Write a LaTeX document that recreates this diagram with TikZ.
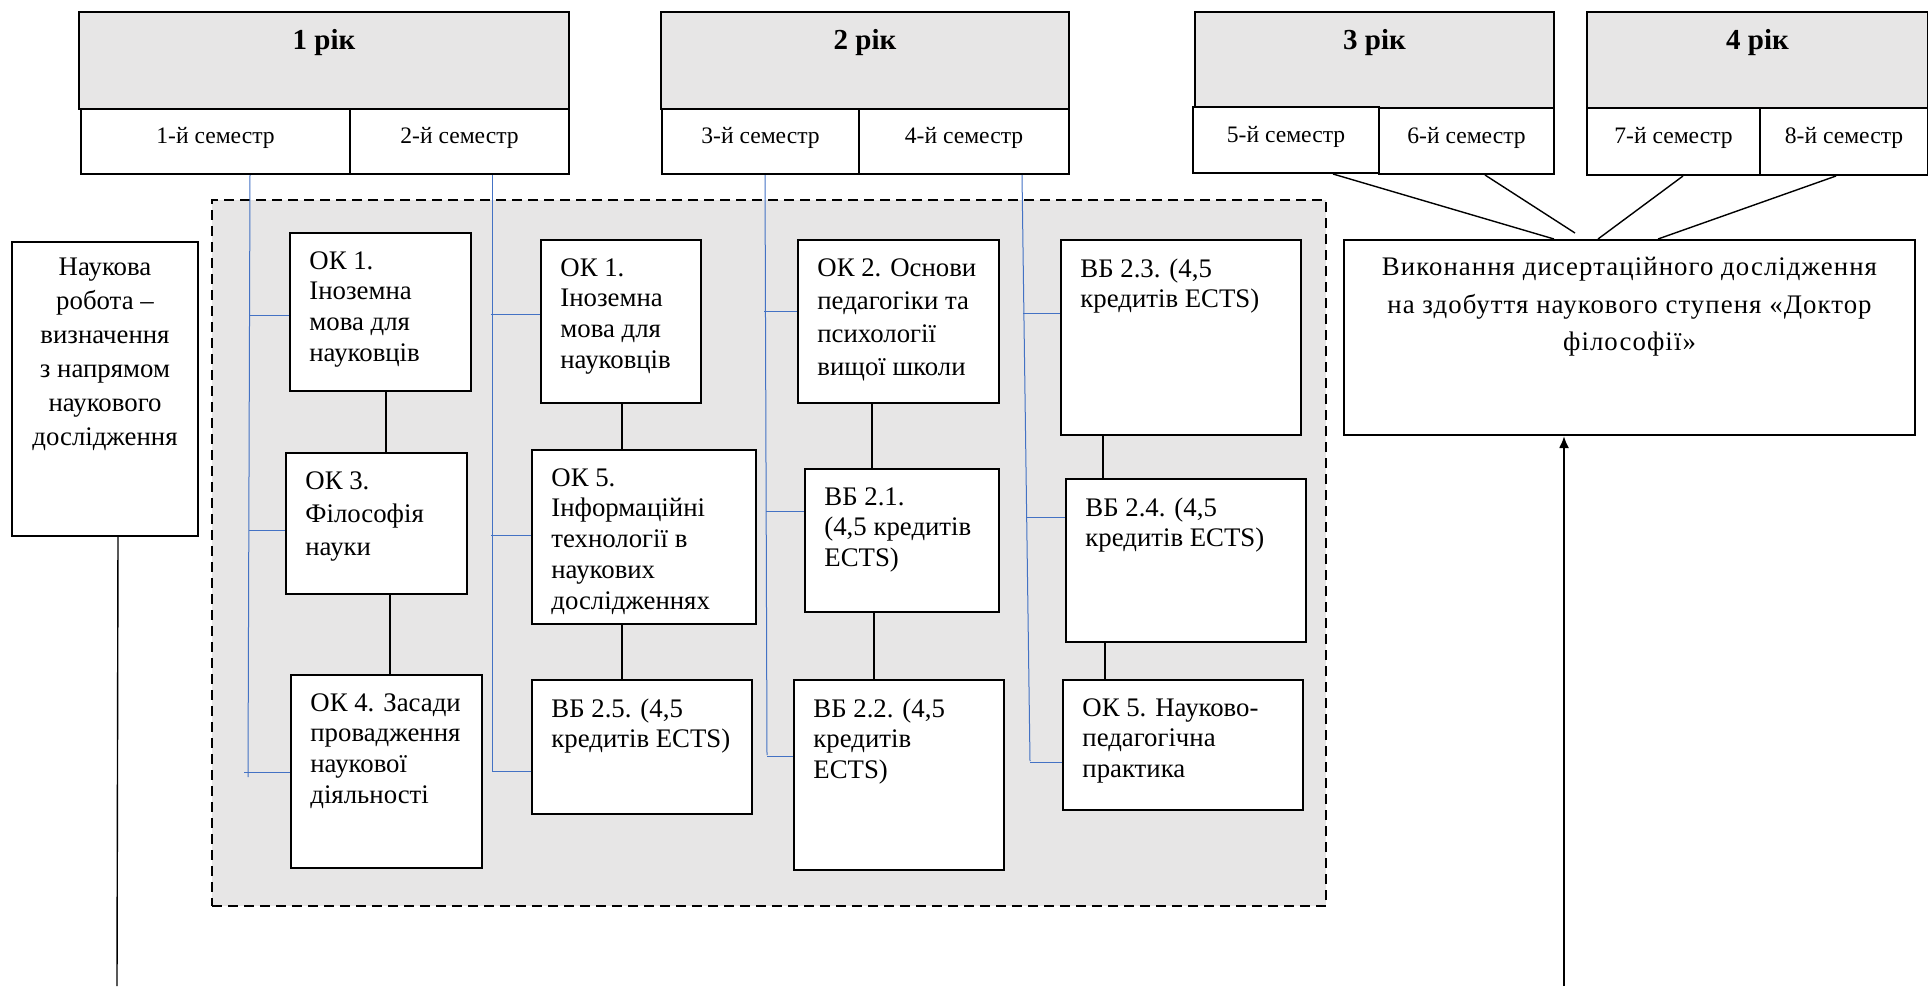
\documentclass[tikz,border=0pt]{standalone}
\usepackage{fontspec}
\setmainfont{Liberation Serif}
\newfontfamily\spacedfont[LetterSpace=4]{Liberation Serif}
\usetikzlibrary{calc, arrows.meta}
\definecolor{cellgray}{HTML}{E7E6E6}
\definecolor{busblue}{HTML}{4472C4}
\tikzstyle{zone} = [draw, fill=cellgray, line width=1.2pt, dash pattern=on 5pt off 3pt, anchor=north west, inner sep=0pt]
\tikzstyle{year} = [draw, line width=1pt, fill=cellgray, anchor=north west, inner sep=0pt, minimum height=48.5pt]
\tikzstyle{yeartxt} = [inner sep=0pt, yshift=-16pt, font=\fontsize{14.5}{17}\selectfont\bfseries]
\tikzstyle{sem} = [draw, line width=1pt, fill=white, anchor=north west, inner sep=0pt, minimum height=33pt, text depth=6pt, font=\fontsize{11.8}{14}\selectfont]
\tikzstyle{box} = [draw, line width=1pt, fill=white, anchor=north west, inner sep=0pt]
\tikzstyle{txt} = [anchor=north west, align=left, inner sep=0pt, xshift=10pt, yshift=-9.5pt, font=\fontsize{13.4}{15.4}\selectfont]
\tikzstyle{link} = [line width=0.7pt]
\tikzstyle{bus} = [busblue, line width=0.5pt]
\tikzstyle{arrow} = [line width=1pt, -{Latex[length=6pt, width=5pt]}]

\begin{document}
\begin{tikzpicture}[x=1pt, y=-1pt]
\useasboundingbox (0,0) rectangle (964,493);

% optional block
\node[zone, minimum width=557pt, minimum height=353pt] (zone) at (105.5,99.5) {};

% years and semesters
\node[year, minimum width=245pt] (y1) at (39,5.5) {};
\node[yeartxt] (y1t) at (y1.north) {1 рік};
\node[sem, minimum width=134.5pt, minimum height=32.5pt] (s1) at (40,54) {1-й семестр};
\node[sem, minimum width=109.5pt, minimum height=32.5pt] (s2) at (174.5,54) {2-й семестр};

\node[year, minimum width=204pt] (y2) at (330,5.5) {};
\node[yeartxt] (y2t) at (y2.north) {2 рік};
\node[sem, minimum width=98.5pt, minimum height=32.5pt] (s3) at (330.5,54) {3-й семестр};
\node[sem, minimum width=105pt, minimum height=32.5pt] (s4) at (429,54) {4-й семестр};

\node[year, minimum width=179.5pt, minimum height=48pt] (y3) at (597,5.5) {};
\node[yeartxt] (y3t) at (y3.north) {3 рік};
\node[sem, minimum width=93pt] (s5) at (596,53) {5-й семестр};
\node[sem, minimum width=87.5pt] (s6) at (689,53.5) {6-й семестр};

\node[year, minimum width=170.5pt, minimum height=48pt] (y4) at (793,5.5) {};
\node[yeartxt] (y4t) at (y4.north) {4 рік};
\node[sem, minimum width=86.5pt, minimum height=33.5pt] (s7) at (793,53.5) {7-й семестр};
\node[sem, minimum width=84pt, minimum height=33.5pt] (s8) at (879.5,53.5) {8-й семестр};

% left box
\node[box, minimum width=93pt, minimum height=147pt] (nauk) at (5.5,120.5) {};
\node[anchor=north, align=center, inner sep=0pt, yshift=-8.5pt, font=\fontsize{13.4}{17}\selectfont] (naukt) at (nauk.north)
  {Наукова\\робота –\\визначення\\з напрямом\\наукового\\дослідження};

% courses
\node[box, minimum width=90.5pt, minimum height=79pt] (ok1a) at (144.5,116) {};
\node[txt] (ok1at) at (ok1a.north west) {ОК 1.\\Іноземна\\мова для\\науковців};
\node[box, minimum width=90.5pt, minimum height=70.5pt] (ok3) at (142.5,226) {};
\node[txt, font=\fontsize{13.4}{16.6}\selectfont] (ok3t) at (ok3.north west) {ОК 3.\\Філософія\\науки};
\node[box, minimum width=95.5pt, minimum height=96.5pt] (ok4) at (145,337) {};
\node[txt] (ok4t) at (ok4.north west) {ОК 4. Засади\\провадження\\наукової\\діяльності};

\node[box, minimum width=80pt, minimum height=81.5pt] (ok1b) at (270,119.5) {};
\node[txt] (ok1bt) at (ok1b.north west) {ОК 1.\\Іноземна\\мова для\\науковців};
\node[box, minimum width=112pt, minimum height=87pt] (ok5a) at (265.5,224.5) {};
\node[txt] (ok5at) at (ok5a.north west) {ОК 5.\\Інформаційні\\технології в\\наукових\\дослідженнях};
\node[box, minimum width=110pt, minimum height=67pt] (vb25) at (265.5,339.5) {};
\node[txt] (vb25t) at (vb25.north west) {ВБ 2.5. (4,5\\кредитів ECTS)};

\node[box, minimum width=100.5pt, minimum height=81.5pt] (ok2) at (398.5,119.5) {};
\node[txt, font=\fontsize{13.4}{16.5}\selectfont] (ok2t) at (ok2.north west) {ОК 2. Основи\\педагогіки та\\психології\\вищої школи};
\node[box, minimum width=97pt, minimum height=71.5pt] (vb21) at (402,234) {};
\node[txt] (vb21t) at (vb21.north west) {ВБ 2.1.\\(4,5 кредитів\\ECTS)};
\node[box, minimum width=105pt, minimum height=95pt] (vb22) at (396.5,339.5) {};
\node[txt] (vb22t) at (vb22.north west) {ВБ 2.2. (4,5\\кредитів\\ECTS)};

\node[box, minimum width=120pt, minimum height=97.5pt] (vb23) at (530,119.5) {};
\node[txt] (vb23t) at (vb23.north west) {ВБ 2.3. (4,5\\кредитів ECTS)};
\node[box, minimum width=120pt, minimum height=81.5pt] (vb24) at (532.5,239) {};
\node[txt] (vb24t) at (vb24.north west) {ВБ 2.4. (4,5\\кредитів ECTS)};
\node[box, minimum width=120pt, minimum height=65pt] (ok5b) at (531,339.5) {};
\node[txt] (ok5bt) at (ok5b.north west) {ОК 5. Науково-\\педагогічна\\практика};

% dissertation
\node[box, minimum width=285.5pt, minimum height=97.5pt] (dis) at (671.5,119.5) {};
\node[anchor=north, align=center, inner sep=0pt, yshift=-9pt, font=\spacedfont\fontsize{13.4}{18.75}\selectfont] (dist) at (dis.north)
  {Виконання дисертаційного дослідження\\на здобуття наукового ступеня «Доктор\\філософії»};

% semester buses
\coordinate (b1) at (124,388.5);
\coordinate (b2) at (246,385.5);
\coordinate (b3) at (383.5,377.5);
\coordinate (b4) at (515,380.5);
\draw[bus] ([xshift=17.25pt]s1.south) -- (b1);
\draw[bus] ([xshift=16.25pt]s2.south) -- (b2);
\draw[bus] ([xshift=2.25pt]s3.south) -- (b3);
\draw[bus] ([xshift=29pt]s4.south) -- (b4);

\draw[bus] ($(ok1a.north west)+(0,41.5)$) -- +(-20,0);
\draw[bus] ($(ok3.north west)+(0,39)$) -- +(-18.2,0);
\draw[bus] ($(ok4.north west)+(0,49)$) -- +(-23,0);
\draw[bus] ($(ok1b.north west)+(0,37.5)$) -- +(-24.5,0);
\draw[bus] ($(ok5a.north west)+(0,43)$) -- +(-20,0);
\draw[bus] ($(vb25.north west)+(0,46)$) -- +(-19.5,0);
\draw[bus] ($(ok2.north west)+(0,36)$) -- +(-16.5,0);
\draw[bus] ($(vb21.north west)+(0,21.5)$) -- +(-19,0);
\draw[bus] ($(vb22.north west)+(0,38.5)$) -- +(-13,0);
\draw[bus] ($(vb23.north west)+(0,37)$) -- +(-18.4,0);
\draw[bus] ($(vb24.north west)+(0,19.5)$) -- +(-19.4,0);
\draw[bus] ($(ok5b.north west)+(0,41.5)$) -- +(-16,0);

% sequences
\draw[link] ([xshift=2.75pt]ok1a.south) -- ([xshift=4.75pt]ok3.north);
\draw[link] ([xshift=6.75pt]ok3.south) -- ([xshift=1.75pt]ok4.north);
\draw[link] ([xshift=0.5pt]ok1b.south) -- ([xshift=-11pt]ok5a.north);
\draw[link] ([xshift=-11pt]ok5a.south) -- ([xshift=-10pt]vb25.north);
\draw[link] ([xshift=-13.25pt]ok2.south) -- ([xshift=-15pt]vb21.north);
\draw[link] ([xshift=-14pt]vb21.south) -- ([xshift=-12.5pt]vb22.north);
\draw[link] ([xshift=-39pt]vb23.south) -- ([xshift=-41.5pt]vb24.north);
\draw[link] ([xshift=-40.5pt]vb24.south) -- ([xshift=-39pt]ok5b.north);

% semesters 5-8 to dissertation
\draw[link] ([xshift=23.5pt]s5.south) -- ([xshift=-37.75pt]dis.north);
\draw[link] ([xshift=9.25pt]s6.south) -- ([xshift=-27.25pt, yshift=3pt]dis.north);
\draw[link] ([xshift=4.75pt]s7.south) -- ([xshift=-15.75pt]dis.north);
\draw[link] ([xshift=-4pt]s8.south) -- ([xshift=14.25pt]dis.north);

% bottom lines
\coordinate (nauk-end) at (58.5,493);
\coordinate (dis-start) at (782,493);
\draw[link] ([xshift=6.5pt]nauk.south) -- (nauk-end);
\draw[arrow] (dis-start) -- (dis-start |- dis.south);

\end{tikzpicture}
\end{document}
